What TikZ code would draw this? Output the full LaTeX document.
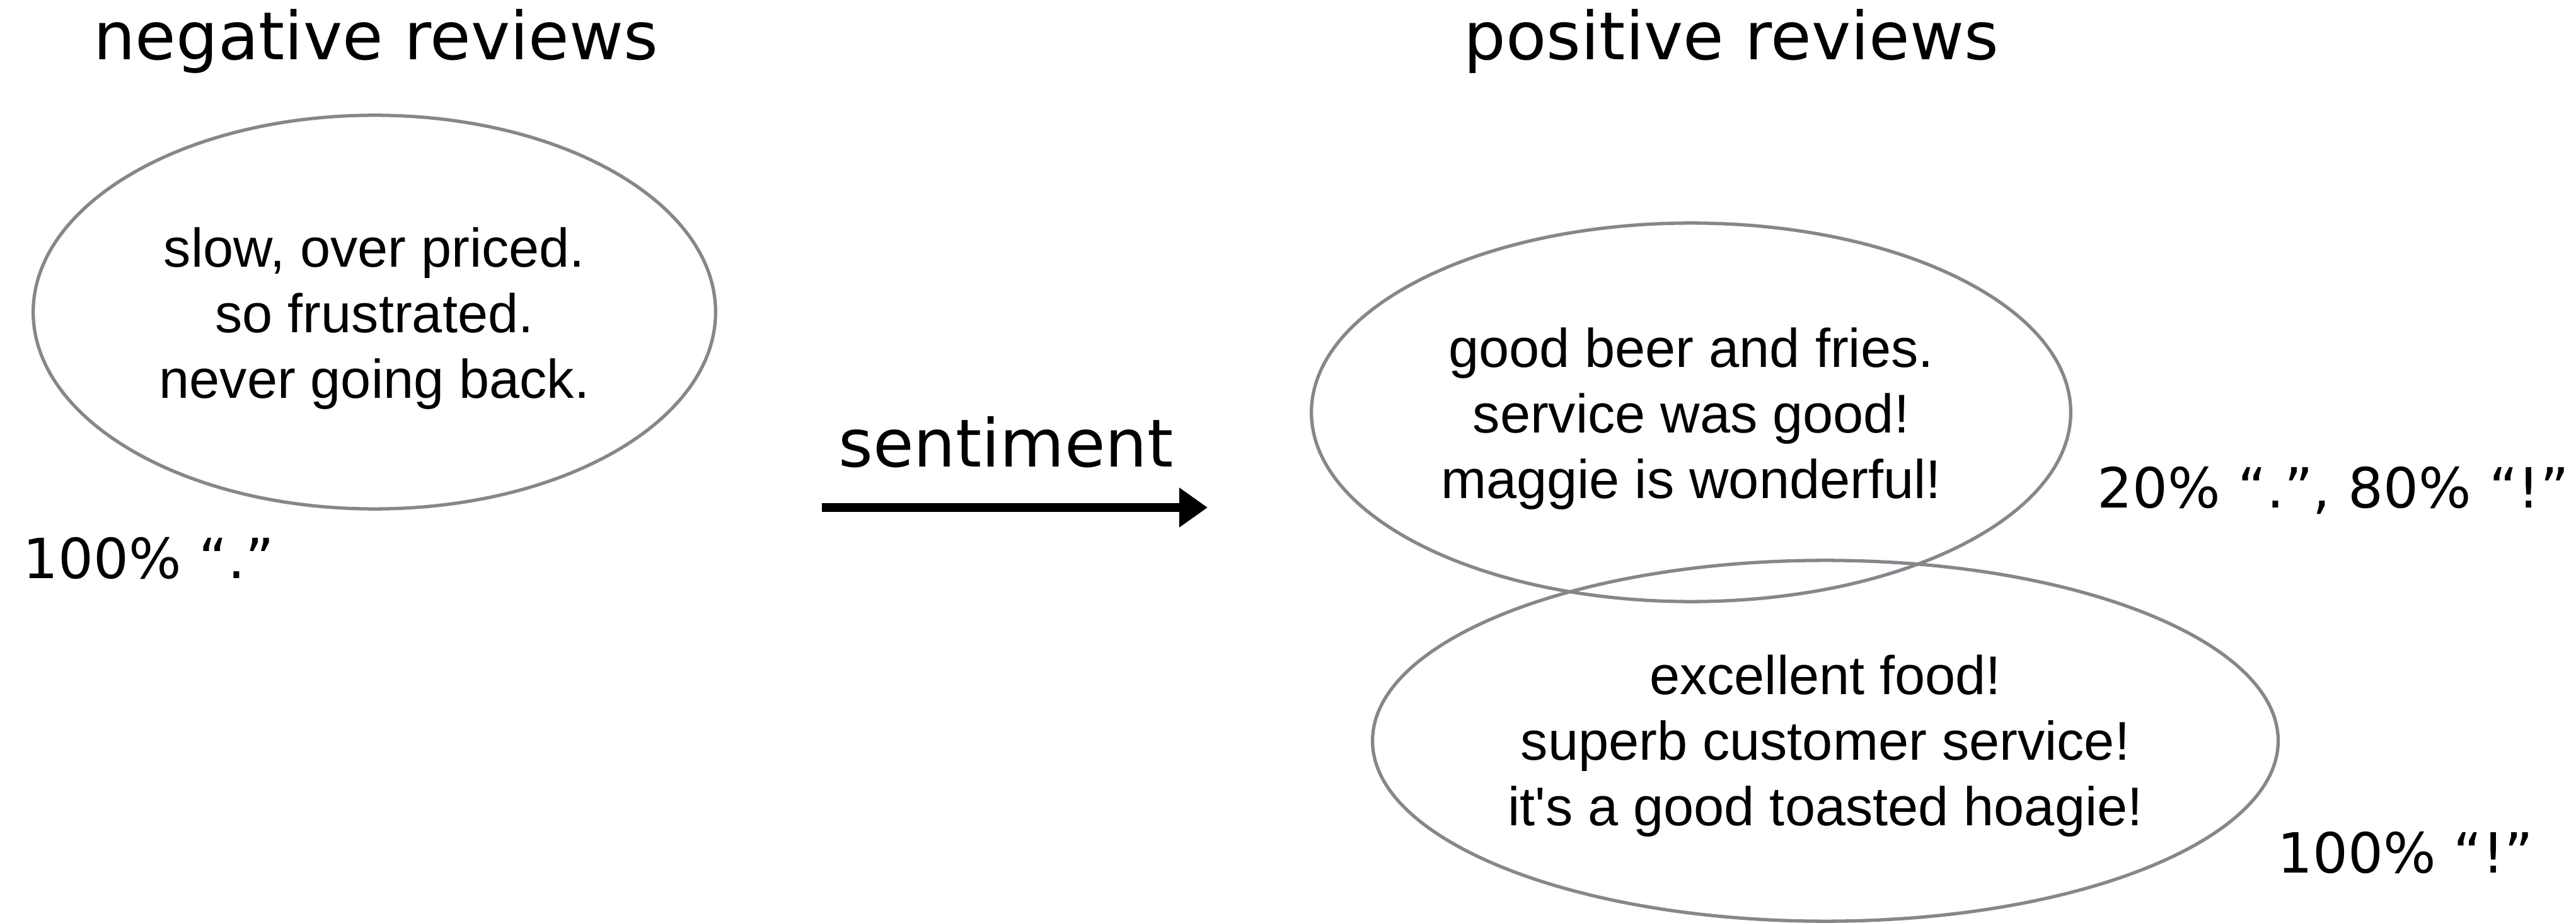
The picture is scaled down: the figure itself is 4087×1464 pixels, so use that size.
\documentclass[tikz,border=0pt]{standalone}
\usepackage{fontspec}
\setmainfont{DejaVu Sans}
\newfontfamily\bubblefont{Liberation Sans}
\usetikzlibrary{shapes.geometric,arrows.meta}

\definecolor{bubblegray}{RGB}{132,135,140}
\tikzset{
  heading/.style={font=\fontsize{29.9}{34}\selectfont, anchor=base, inner sep=0pt},
  share/.style={font=\fontsize{25}{30}\selectfont, anchor=base west, inner sep=0pt},
  bubble/.style={ellipse, draw=bubblegray, line width=1.5pt, inner sep=0pt},
  quote/.style={align=center, inner sep=0pt,
    font=\bubblefont\fontsize{24.6}{29.6}\selectfont},
  flow/.style={line width=3.7pt, -{Triangle[length=0.45cm,width=0.6cm]}}
}

\begin{document}
\begin{tikzpicture}[x=0.01cm,y=-0.01cm]
  \useasboundingbox (0,0) rectangle (4087,1464);

  % column headings
  \node[heading] (neghead) at (596,95) {negative reviews};
  \node[heading] (poshead) at (2747,95) {positive reviews};

  % review clusters
  \node[bubble, minimum width=10.82cm, minimum height=6.24cm] (neg) at (594,495) {};
  \node[bubble, minimum width=12.04cm, minimum height=6.0cm] (posa) at (2683,654) {};
  \node[bubble, minimum width=14.36cm, minimum height=5.72cm] (posb) at (2896,1175) {};

  % review texts, set a little below each cluster's centre
  \node[quote] (negtext) at ([shift={(0,10)}]neg.center)
    {slow, over priced.\\so frustrated.\\never going back.};
  \node[quote] (posatext) at ([shift={(0,10)}]posa.center)
    {good beer and fries.\\service was good!\\maggie is wonderful!};
  \node[quote] (posbtext) at ([shift={(0,8)}]posb.center)
    {excellent food!\\superb customer service!\\it's a good toasted hoagie!};

  % punctuation shares
  \node[share] (negshare) at (36,917) {100\% “.”};
  \node[share] (posashare) at (3327,805) {20\% “.”, 80\% “!”};
  \node[share] (posbshare) at (3613,1384) {100\% “!”};

  % sentiment transfer arrow
  \coordinate (arrfrom) at (1304,805);
  \coordinate (arrto) at (1916,805);
  \draw[flow] (arrfrom) -- (arrto);
  \node[heading] (arrlabel) at (1596,740) {sentiment};
\end{tikzpicture}
\end{document}
